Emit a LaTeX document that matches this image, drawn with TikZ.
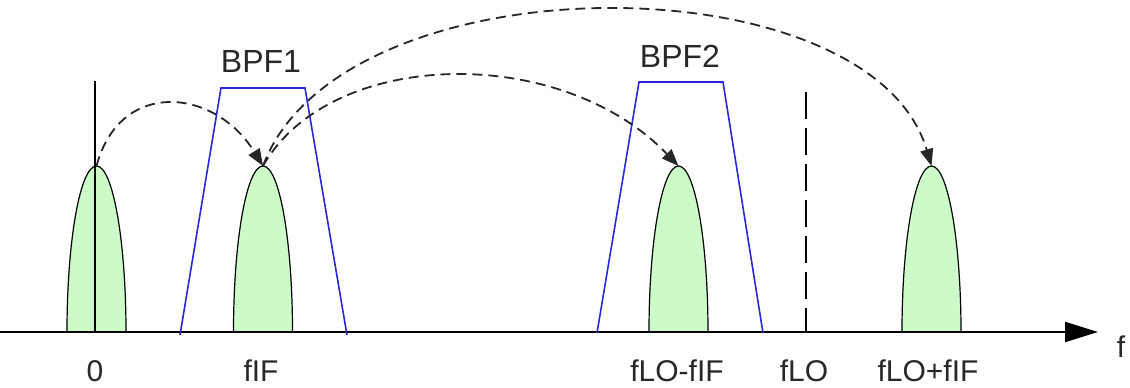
\documentclass[tikz,border=0pt]{standalone}
\usepackage{fontspec}
\setmainfont{Liberation Sans}
\usetikzlibrary{arrows.meta}
\definecolor{lobegreen}{RGB}{204,250,200}
\definecolor{filtblue}{RGB}{40,40,215}
\definecolor{txt}{RGB}{40,40,40}
\begin{document}
\begin{tikzpicture}[x=1pt,y=1pt,
  lobe/.style={fill=lobegreen, draw=black, line width=1.2pt},
  filt/.style={draw=filtblue, line width=1.6pt, line join=miter},
  hop/.style={draw=black!85, line width=1.8pt, dash pattern=on 10pt off 6pt, -{Triangle[length=17pt,width=13pt]}},
  lbl/.style={font=\fontsize{30}{36}\selectfont, text=txt, inner sep=0pt, anchor=base},
  flbl/.style={lbl, font=\fontsize{32}{38}\selectfont}]
\useasboundingbox (0,0) rectangle (1130,388);
% spectral lobes
\foreach \c in {96.5,263,678.5,931.5}
  \draw[lobe] (\c-29.5,56) arc[start angle=180,end angle=0,x radius=29.5,y radius=166] -- cycle;
\coordinate (p1) at (96.5,222);
\coordinate (p2) at (263,222);
\coordinate (p3) at (678.5,222);
\coordinate (p4) at (931.5,222);
% axis
\coordinate (ax0) at (0,56);
\coordinate (ax1) at (1098,56);
\draw[line width=2.2pt, -{Triangle[length=33pt,width=20pt]}] (ax0) -- (ax1);
% zero line
\coordinate (z0) at (95,56);
\coordinate (z1) at (95,307);
\draw[line width=2.2pt] (z0) -- (z1);
% fLO dashed
\coordinate (lo0) at (806,296);
\coordinate (lo1) at (806,56);
\draw[line width=2.6pt, dash pattern=on 27pt off 9pt] (lo0) -- (lo1);
% filters
\draw[filt] (180,53) -- (221,300) -- (305,300) -- (347,53);
\draw[filt] (597,55) -- (639,306) -- (723,306) -- (763,55);
% labels
\node[flbl] (bpf1) at (261,315) {BPF1};
\node[flbl] (bpf2) at (680,320) {BPF2};
\node[lbl] (l0) at (95,6) {0};
\node[lbl] (lif) at (261,6) {fIF};
\node[lbl] (ldiff) at (677,6) {fLO-fIF};
\node[lbl] (llo) at (804,6) {fLO};
\node[lbl] (lsum) at (928,6) {fLO+fIF};
\node[lbl] (lf) at (1121,30) {f};
% mixing arcs
\draw[hop] (p1) .. controls (120,310) and (215,300) .. (p2);
\draw[hop] (p2) .. controls (330,340) and (560,345) .. (p3);
\draw[hop] (p2) .. controls (340,430) and (870,430) .. (p4);
\end{tikzpicture}
\end{document}
